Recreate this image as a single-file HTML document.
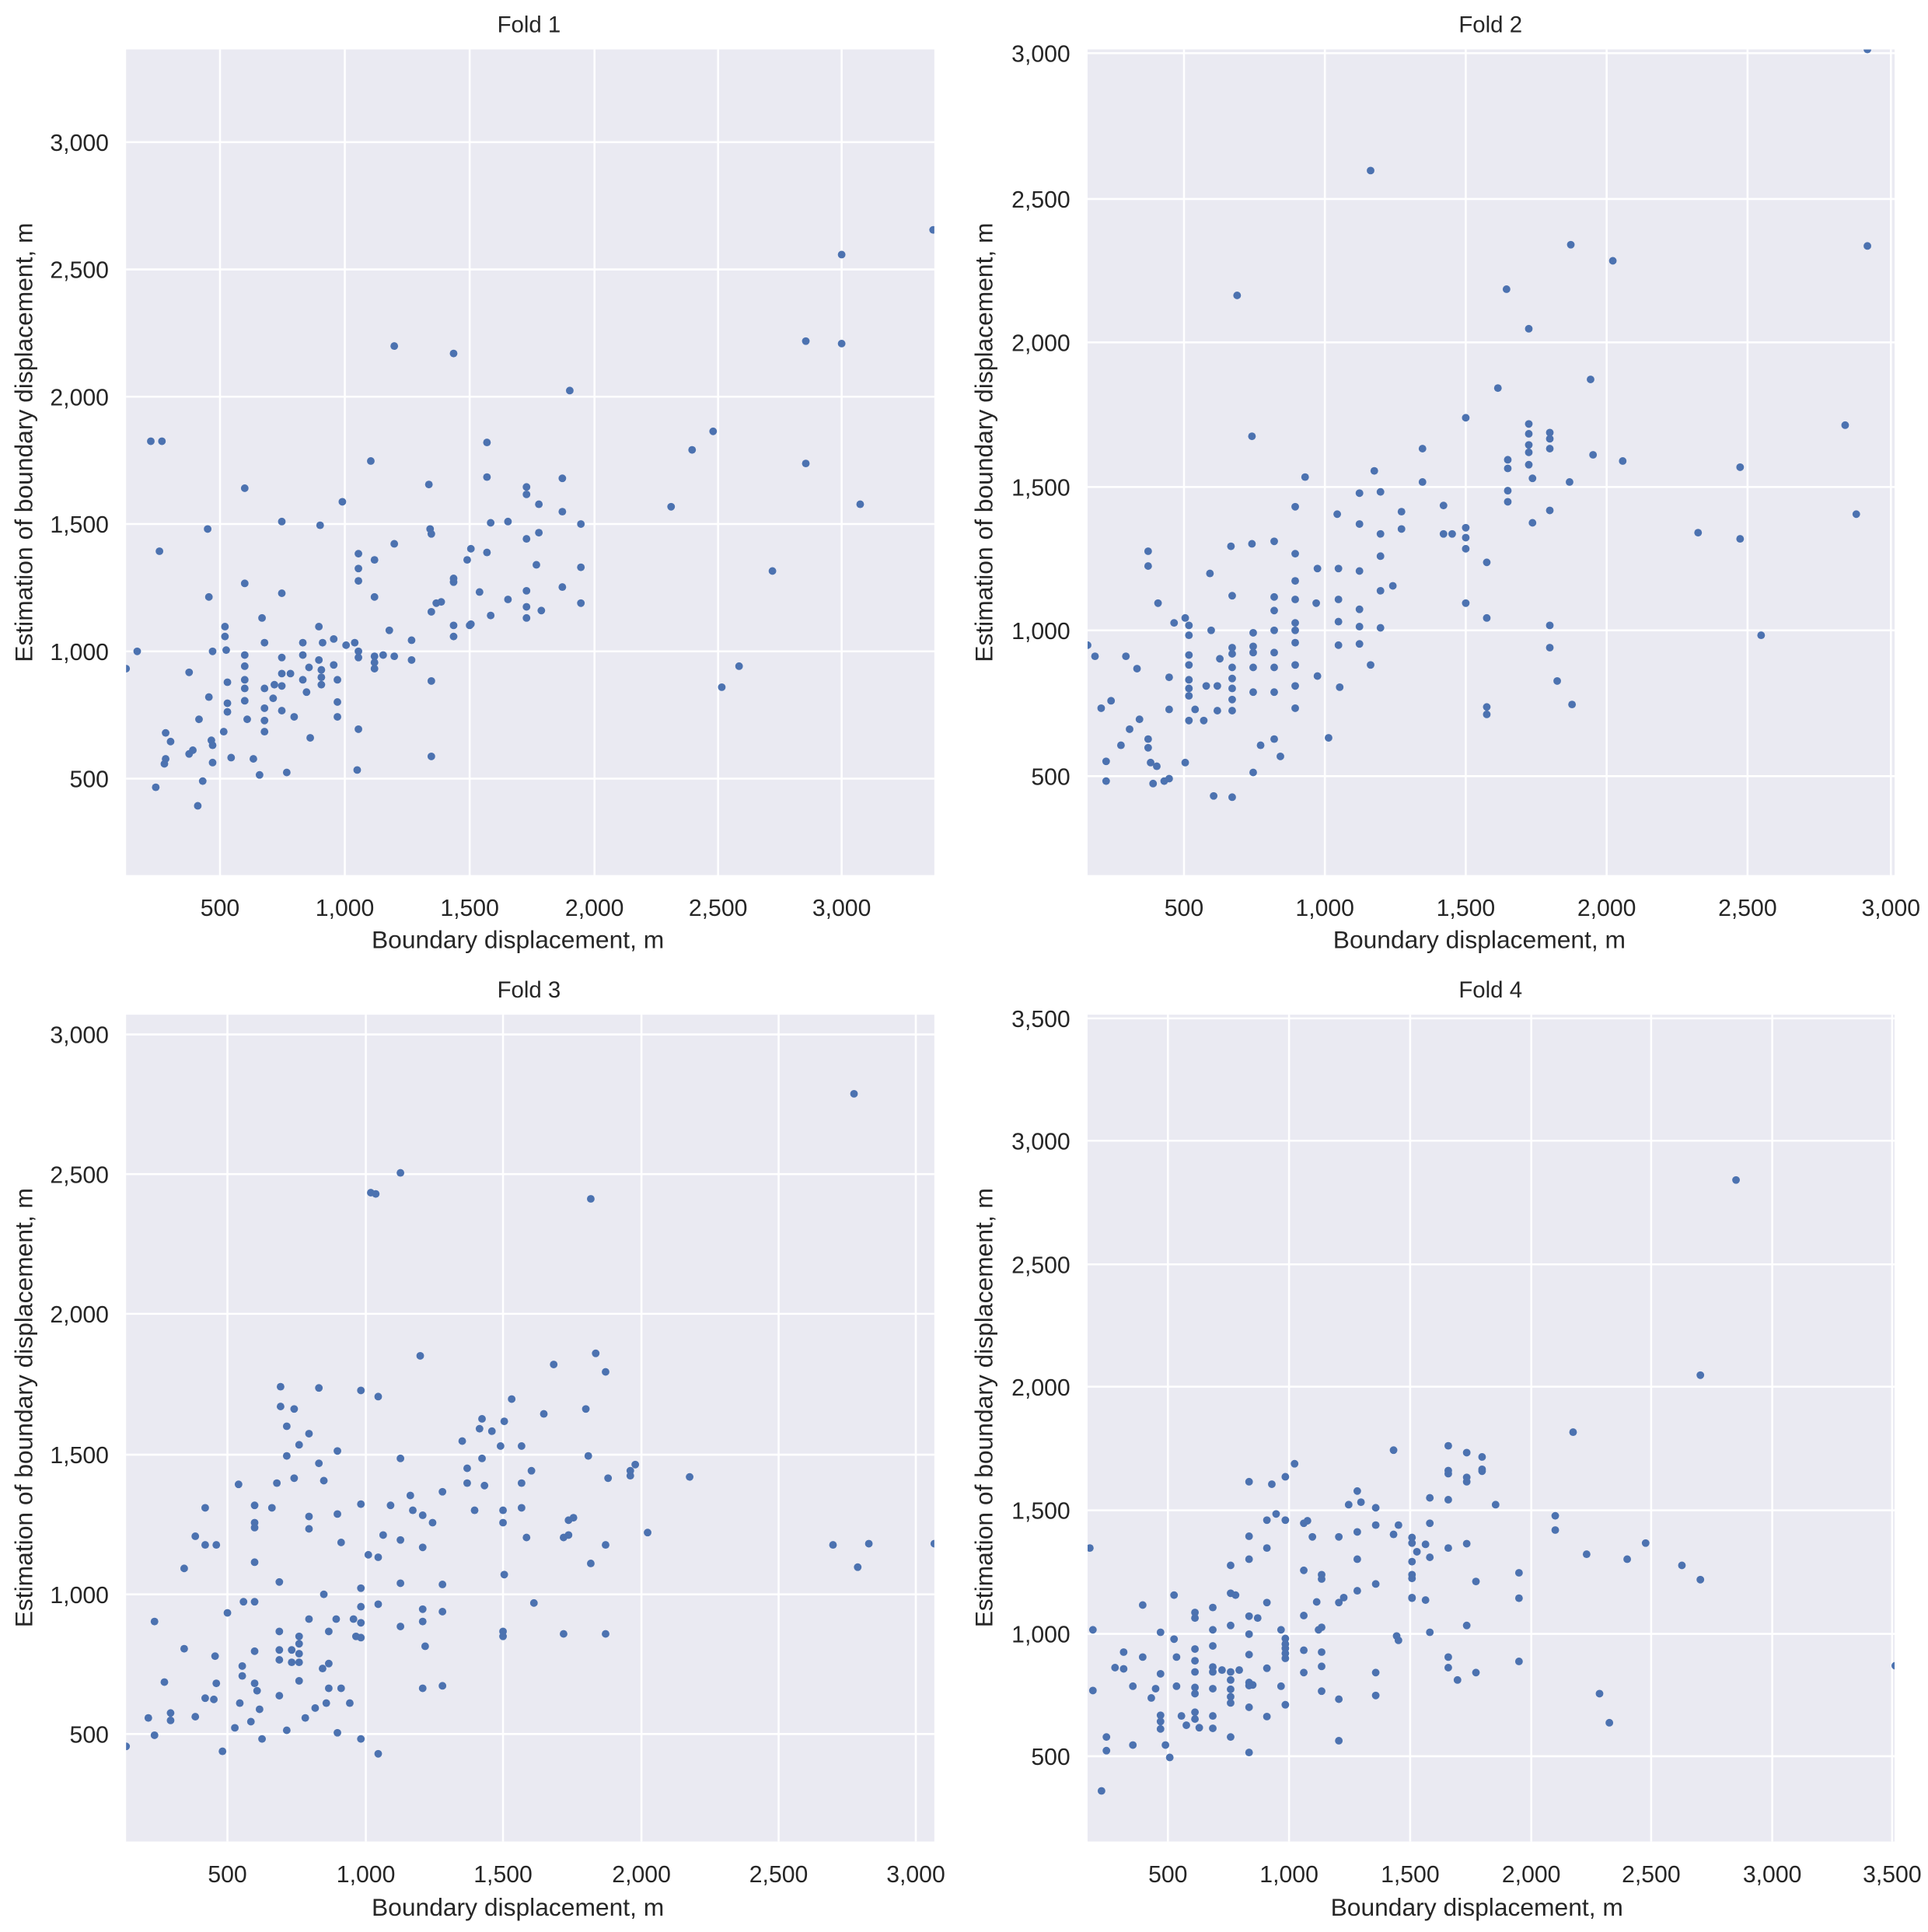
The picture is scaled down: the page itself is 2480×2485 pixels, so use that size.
<!DOCTYPE html>
<html><head><meta charset="utf-8"><style>
html,body{margin:0;padding:0;background:#fff;}
svg{display:block;}
text{font-family:"Liberation Sans",sans-serif;fill:#262626;}
</style></head><body>
<svg id="s" width="2480" height="2485" viewBox="0 0 1560 1563.2" xmlns="http://www.w3.org/2000/svg">
<defs>
<clipPath id="c1"><rect x="102" y="40" width="654" height="668"/></clipPath>
<clipPath id="c2"><rect x="880" y="40" width="653" height="668"/></clipPath>
<clipPath id="c3"><rect x="102" y="821" width="654" height="669"/></clipPath>
<clipPath id="c4"><rect x="880" y="821" width="653" height="669"/></clipPath>
</defs>
<rect width="1560" height="1563.2" fill="#fff"/>
<g id="bg"></g>
<g id="pts" fill="#4c72b0"></g>
<g font-size="18.5">
<text x="428" y="26" text-anchor="middle">Fold 1</text>
<text x="1206" y="26" text-anchor="middle">Fold 2</text>
<text x="428" y="807" text-anchor="middle">Fold 3</text>
<text x="1206" y="807" text-anchor="middle">Fold 4</text>
</g>
<g font-size="20" text-anchor="middle">
<text x="419" y="767">Boundary displacement, m</text>
<text x="1197" y="767">Boundary displacement, m</text>
<text x="419" y="1550">Boundary displacement, m</text>
<text x="1195" y="1550">Boundary displacement, m</text>
<text transform="translate(26,358) rotate(-90)">Estimation of boundary displacement, m</text>
<text transform="translate(803,358) rotate(-90)">Estimation of boundary displacement, m</text>
<text transform="translate(26,1139) rotate(-90)">Estimation of boundary displacement, m</text>
<text transform="translate(803,1139) rotate(-90)">Estimation of boundary displacement, m</text>
</g>
<g id="ticks" font-size="19"></g>
</svg>
<script>
var NS="http://www.w3.org/2000/svg";
function el(t,a,p,txt){var e=document.createElementNS(NS,t);for(var k in a)e.setAttribute(k,a[k]);if(txt)e.textContent=txt;document.getElementById(p).appendChild(e);return e;}
var P=[
 {x:102,y:40,w:654,h:668,xt:[[178,"500"],[279,"1,000"],[380,"1,500"],[481,"2,000"],[581,"2,500"],[681,"3,000"]],yt:[[115,"3,000"],[218,"2,500"],[321,"2,000"],[424,"1,500"],[527,"1,000"],[630,"500"]],c:"c1"},
 {x:880,y:40,w:653,h:668,xt:[[958,"500"],[1072,"1,000"],[1186,"1,500"],[1300,"2,000"],[1414,"2,500"],[1530,"3,000"]],yt:[[43,"3,000"],[161,"2,500"],[277,"2,000"],[394,"1,500"],[510,"1,000"],[628,"500"]],c:"c2"},
 {x:102,y:821,w:654,h:669,xt:[[184,"500"],[296,"1,000"],[407,"1,500"],[519,"2,000"],[630,"2,500"],[741,"3,000"]],yt:[[837,"3,000"],[950,"2,500"],[1063,"2,000"],[1177,"1,500"],[1290,"1,000"],[1403,"500"]],c:"c3"},
 {x:880,y:821,w:653,h:669,xt:[[945,"500"],[1043,"1,000"],[1141,"1,500"],[1239,"2,000"],[1336,"2,500"],[1434,"3,000"],[1531,"3,500"]],yt:[[824,"3,500"],[923,"3,000"],[1023,"2,500"],[1122,"2,000"],[1222,"1,500"],[1322,"1,000"],[1421,"500"]],c:"c4"}
];
P.forEach(function(p){
 el("rect",{x:p.x,y:p.y,width:p.w,height:p.h,fill:"#eaeaf2"},"bg");
 p.xt.forEach(function(t){el("line",{x1:t[0],x2:t[0],y1:p.y,y2:p.y+p.h,stroke:"#fff","stroke-width":1.6},"bg");
   el("text",{x:t[0],y:p.y+p.h+33,"text-anchor":"middle"},"ticks",t[1]);});
 p.yt.forEach(function(t){el("line",{x1:p.x,x2:p.x+p.w,y1:t[0],y2:t[0],stroke:"#fff","stroke-width":1.6},"bg");
   el("text",{x:p.x-14,y:t[0]+7,"text-anchor":"end"},"ticks",t[1]);});
});
var D=[
[102,541,111,527,122,357,131,357,129,446,126,637,134,593,134,614,133,618,138,600,153,544,153,610,156,607,161,582,160,652,164,632,168,428,169,483,169,564,172,527,171,599,172,617,172,603,182,507,182,515,183,526,181,592,184,552,184,569,184,576,187,613,198,395,198,472,198,530,198,539,198,550,198,557,198,567,200,582,205,614,210,627,212,500,214,557,214,573,214,583,214,592,214,520,221,565,222,554,228,422,228,480,228,532,228,545,228,555,228,575,232,625,235,545,238,580,245,520,245,530,245,550,248,560,250,540,251,597,258,507,259,425,258,534,260,542,260,548,260,554,261,520,270,517,270,538,273,550,273,568,273,580,277,406,280,522,287,520,290,448,290,460,290,470,290,527,290,532,290,590,289,623,300,373,303,483,303,453,303,531,303,536,303,541,310,530,315,510,319,440,319,280,319,531,333,518,333,534,347,392,348,428,349,432,349,495,349,551,349,612,353,488,357,487,367,286,367,468,367,471,367,515,367,506,378,453,381,444,380,506,381,505,388,479,394,358,394,386,394,447,397,423,397,498,411,422,411,485,426,394,426,400,426,436,426,478,426,491,426,500,434,457,436,408,436,431,438,494,455,387,455,414,455,475,461,316,470,424,470,459,470,488,543,410,560,364,577,349,584,556,598,539,625,462,652,276,652,375,681,206,681,278,696,408,755,186],
[880,522,886,531,891,573,895,632,895,616,899,567,907,603,911,531,914,590,920,541,922,582,929,446,929,458,929,598,929,605,931,617,933,634,937,488,936,620,942,632,946,630,946,548,946,574,950,504,959,500,962,506,962,514,962,530,962,538,962,550,962,557,962,563,959,617,962,583,967,574,974,583,976,555,979,464,980,510,982,644,985,555,985,575,987,533,996,442,997,482,997,524,997,529,997,540,997,549,997,557,997,566,997,575,997,645,1001,239,1013,440,1013,353,1014,512,1014,523,1014,528,1014,540,1014,560,1014,625,1020,603,1031,438,1031,483,1031,494,1031,510,1031,528,1031,540,1031,560,1031,598,1036,612,1048,410,1048,448,1048,470,1048,485,1048,504,1048,510,1048,520,1048,538,1048,555,1048,573,1056,386,1065,488,1066,460,1066,547,1075,597,1082,416,1083,460,1083,485,1083,503,1083,522,1084,556,1100,399,1100,424,1100,462,1100,493,1100,507,1100,521,1109,138,1109,538,1112,381,1117,398,1117,432,1117,450,1117,478,1117,508,1127,474,1134,414,1134,428,1151,363,1151,390,1168,409,1168,432,1175,432,1186,338,1186,427,1186,435,1186,444,1186,488,1203,455,1203,500,1203,572,1203,578,1212,314,1219,234,1220,372,1220,379,1220,397,1220,406,1237,266,1237,343,1237,351,1237,360,1237,366,1237,376,1240,387,1240,423,1254,350,1254,355,1254,363,1254,413,1254,506,1254,524,1260,551,1270,390,1271,198,1272,570,1287,307,1289,368,1305,211,1313,373,1374,431,1408,378,1408,436,1425,514,1493,344,1502,416,1511,199,1511,40],
[102,1413,120,1390,125,1312,125,1404,133,1361,138,1386,138,1392,149,1269,149,1334,158,1243,158,1389,166,1220,166,1250,166,1374,173,1375,174,1340,175,1362,175,1250,180,1417,184,1305,190,1398,193,1201,194,1378,196,1348,196,1356,197,1296,203,1393,206,1218,206,1232,206,1236,206,1264,206,1296,206,1336,206,1362,208,1368,210,1383,212,1407,220,1220,224,1200,226,1280,226,1320,226,1335,226,1343,226,1372,227,1122,227,1138,232,1154,232,1178,232,1400,236,1335,236,1345,238,1140,238,1196,242,1169,242,1324,242,1330,242,1338,242,1345,242,1360,247,1390,250,1227,250,1237,250,1160,250,1310,255,1382,258,1123,258,1184,261,1350,262,1198,262,1290,264,1378,266,1320,266,1346,266,1366,272,1310,273,1225,273,1174,273,1402,276,1366,276,1248,283,1378,286,1310,288,1324,292,1407,292,1325,292,1313,292,1300,292,1285,292,1125,292,1217,298,1258,300,965,304,966,306,1130,306,1260,306,1298,306,1419,310,1242,316,1218,324,949,324,1246,324,1180,324,1281,324,1316,332,1210,334,1222,340,1097,342,1226,342,1252,342,1302,342,1312,342,1366,344,1332,350,1232,358,1207,358,1282,358,1364,358,1304,374,1166,378,1188,378,1200,384,1222,388,1156,390,1148,390,1180,392,1202,398,1158,405,1170,407,1222,407,1232,407,1324,407,1320,408,1150,408,1274,414,1132,422,1200,422,1220,422,1170,426,1244,430,1190,432,1297,440,1144,448,1104,456,1322,456,1244,460,1230,460,1242,464,1228,474,1140,476,1178,478,1265,478,970,482,1095,490,1110,490,1250,490,1322,492,1196,510,1194,510,1190,514,1185,524,1240,558,1195,674,1250,691,885,694,1268,703,1249,756,1249]
];
var Z4=[195,940,200,1072,200,1170,214,1332,222,1245,222,1267,236,1133,250,1108,250,1135,265,1163,265,1258,281,1032,281,1116,295,1182,302,1167,310,1076,310,1143,310,1210,310,1220,310,1232,318,1258,325,1278,332,1016,332,1087,336,1116,336,1163,344,1211,352,1226,366,1044,366,1053,366,1103,366,1122,366,1140,366,1165,366,1175,366,1205,366,1216,373,1230,395,1036,395,1072,395,1098,395,1132,395,1140,395,1167,395,1211,395,1231,410,1137,424,968,424,1013,424,1065,424,1140,424,1153,424,1168,424,1180,424,1190,424,1245,432,1016,438,1137,454,833,454,921,454,958,454,1050,454,1079,454,1112,454,1157,454,1162,454,1197,454,1270,460,1161,468,1053,483,895,483,940,483,1028,483,1134,483,1212,491,837,498,885,506,1163,506,1072,513,825,513,895,513,1086,513,1095,513,1102,513,1110,513,1118,513,1193,528,804,543,900,543,976,543,1049,543,1105,543,1141,549,896,557,922,564,1027,567,1072,572,983,572,990,572,1068,572,1108,572,1131,572,1171,600,922,600,1028,600,1184,600,1251,608,1020,616,870,630,848,630,914,630,958,630,1009,636,866,660,875,660,903,660,998,660,1141,660,1178,689,782,689,918,694,1082,697,903,697,1089,719,923,719,932,719,962,719,983,719,989,719,1020,719,1021,727,946,741,934,741,1024,748,859,748,900,748,955,748,1076,778,775,778,815,778,820,778,862,778,940,778,1116,778,1133,793,1153,808,786,808,826,808,833,808,933,808,1065,823,994,823,1141,833,793,833,816,833,813,855,870,893,980,893,1021,893,1123,952,888,952,911,981,753,1003,950,1024,1175,1040,1222,1069,958,1099,932,1158,968,1188,991,1188,661,1246,346,1505,1130];
var F4=[];for(var i=0;i<Z4.length;i+=2){F4.push(0.4975*Z4[i]+784.8,0.5013*Z4[i+1]+781.3);}
D.push(F4);
D.forEach(function(a,i){
 var g=el("g",{"clip-path":"url(#"+P[i].c+")"},"pts");
 for(var k=0;k<a.length;k+=2){var c=document.createElementNS(NS,"circle");c.setAttribute("cx",a[k]);c.setAttribute("cy",a[k+1]);c.setAttribute("r",3.1);g.appendChild(c);}
});
</script>
</body></html>
